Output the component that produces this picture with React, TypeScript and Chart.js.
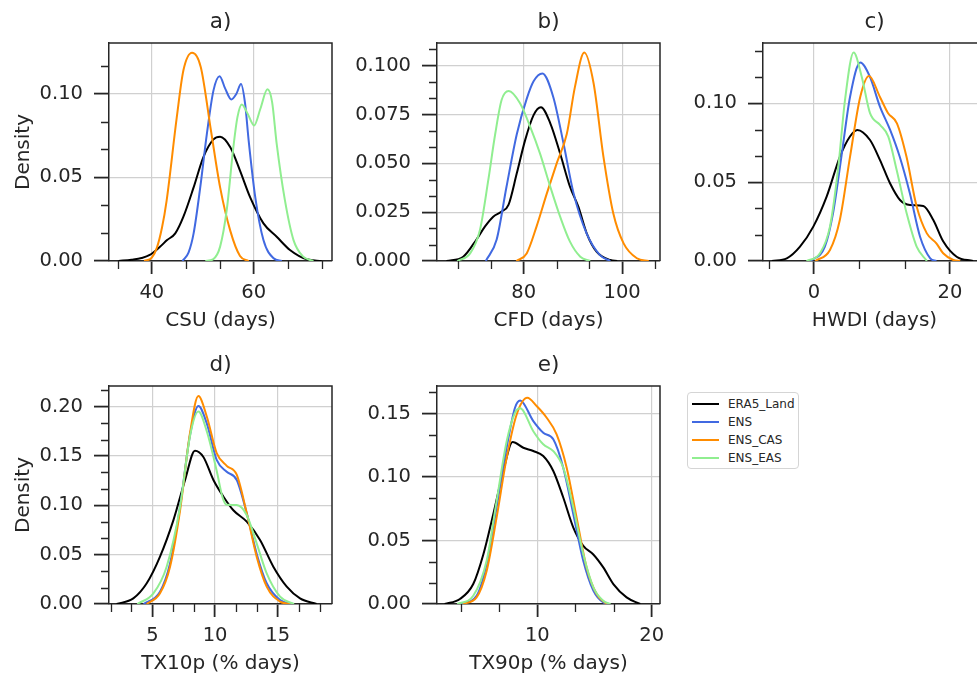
import React, { useEffect, useRef } from "react";
import { Chart, registerables } from "chart.js";

Chart.register(...registerables);

const FONT = "'DejaVu Sans', 'Noto Sans', sans-serif";
const INK = "#262626";
const GRID = "#d0d0d0";

const SERIES_NAMES = ["ERA5_Land", "ENS", "ENS_CAS", "ENS_EAS"];
const SERIES_COLORS = ["#000000", "#4169E1", "#FF8C00", "#90EE90"];

type Pt = [number, number];

// ---------- a) CSU ----------
const csuEra5: Pt[] = [[33.5, 0], [36, 0.0008], [38, 0.0018], [39.6, 0.0036], [41.6, 0.0085], [43, 0.0125], [44.6, 0.0165], [46.2, 0.0265], [48.2, 0.044], [50.1, 0.062], [52.1, 0.0727], [53.4, 0.0743], [55.4, 0.068], [57.3, 0.054], [59.3, 0.038], [61.9, 0.0225], [64.5, 0.0145], [67.1, 0.0066], [70.4, 0.001], [73.3, 0]];
const csuEns: Pt[] = [[46, 0], [47.2, 0.005], [48.2, 0.0165], [49.5, 0.044], [50.8, 0.076], [52.1, 0.102], [53.3, 0.1105], [54.4, 0.103], [55.6, 0.0966], [56.6, 0.1], [57.5, 0.1058], [58.3, 0.094], [59, 0.072], [60.3, 0.038], [61.9, 0.0125], [63.9, 0.0016], [65.5, 0]];
const csuCas: Pt[] = [[38.5, 0], [40, 0.002], [41, 0.008], [42, 0.02], [42.9, 0.036], [44.9, 0.086], [46.2, 0.114], [47.9, 0.1245], [49.6, 0.116], [51.6, 0.078], [53.4, 0.044], [55.4, 0.018], [57.3, 0.003], [59, 0]];
const csuEas: Pt[] = [[50.5, 0], [52, 0.001], [53.4, 0.0086], [54.7, 0.0305], [56, 0.068], [56.8, 0.086], [57.65, 0.0936], [58.8, 0.088], [60.07, 0.081], [61.3, 0.091], [62.68, 0.1026], [63.6, 0.095], [64.5, 0.07], [66.1, 0.0365], [67.8, 0.0125], [69.7, 0.0026], [71.7, 0]];

// ---------- b) CFD ----------
const cfdEra5: Pt[] = [[64.3, 0], [67.7, 0.0022], [70.4, 0.011], [72.1, 0.0176], [73.8, 0.0227], [75.5, 0.0253], [76.9, 0.0287], [78.6, 0.045], [80.3, 0.062], [82, 0.0747], [83.5, 0.0787], [85.4, 0.0705], [87.4, 0.055], [89.4, 0.038], [91.1, 0.0278], [92.8, 0.0142], [94.8, 0.0048], [97.6, 0.0005], [99, 0]];
const cfdEns: Pt[] = [[72.3, 0], [74.5, 0.011], [76.5, 0.038], [78.6, 0.065], [80.6, 0.083], [82, 0.092], [83.8, 0.096], [86, 0.084], [88.1, 0.06], [90.1, 0.035], [92.8, 0.014], [95.5, 0.003], [97.6, 0]];
const cfdCas: Pt[] = [[78.5, 0], [80.6, 0.0039], [82.6, 0.0176], [84.7, 0.0346], [86.7, 0.05], [88.75, 0.065], [90.4, 0.089], [92.3, 0.1067], [94.2, 0.091], [96.2, 0.0534], [98.2, 0.0244], [100.3, 0.009], [103, 0.0014], [105.4, 0]];
const cfdEas: Pt[] = [[66.5, 0], [69.1, 0.0039], [71.1, 0.0159], [72.8, 0.0415], [74.2, 0.065], [75.5, 0.0824], [76.95, 0.087], [79.25, 0.0807], [81.3, 0.0688], [83.3, 0.0551], [85.4, 0.038], [87.4, 0.0227], [89.4, 0.0099], [91.5, 0.0022], [93.5, 0]];

// ---------- c) HWDI ----------
const hwdiEra5: Pt[] = [[-6.2, 0], [-4, 0.0017], [-2.06, 0.0091], [-0.1, 0.0218], [1.86, 0.0408], [3.82, 0.0662], [5.29, 0.0789], [6.37, 0.0831], [8.24, 0.0767], [9.71, 0.064], [11.18, 0.0493], [12.65, 0.0387], [14.12, 0.0355], [16.08, 0.0349], [17.55, 0.026], [19.02, 0.0123], [20.98, 0.0027], [23.4, 0]];
const hwdiEns: Pt[] = [[-0.5, 0], [1.6, 0.0091], [2.8, 0.0302], [4.1, 0.0683], [5.3, 0.104], [6.8, 0.1258], [8.2, 0.117], [9.7, 0.0979], [11.2, 0.0831], [12.6, 0.0662], [14.1, 0.0429], [15.6, 0.0154], [17.1, 0.0017], [18, 0]];
const hwdiCas: Pt[] = [[0.2, 0], [2.35, 0.007], [3.8, 0.026], [5.3, 0.066], [6.8, 0.104], [8.1, 0.1173], [9.7, 0.104], [10.9, 0.0937], [12.2, 0.0873], [13.6, 0.0662], [15.1, 0.0345], [16.6, 0.0175], [18, 0.0112], [19, 0.0049], [20.5, 0.0006], [21.5, 0]];
const hwdiEas: Pt[] = [[-1.1, 0], [0.88, 0.0049], [2.35, 0.0218], [3.58, 0.0598], [4.56, 0.102], [5.83, 0.1321], [7.01, 0.117], [8.24, 0.0937], [9.71, 0.0863], [10.93, 0.0789], [12.16, 0.0577], [13.63, 0.0302], [15.1, 0.0091], [16.6, 0]];

// ---------- d) TX10p ----------
const tx10Era5: Pt[] = [[2.15, 0], [3.48, 0.0057], [4.55, 0.021], [5.61, 0.048], [6.68, 0.085], [7.61, 0.1257], [8.4, 0.1554], [9.07, 0.149], [9.87, 0.1257], [10.66, 0.109], [11.46, 0.095], [12.53, 0.0834], [13.59, 0.0649], [14.65, 0.0378], [15.72, 0.0176], [16.78, 0.0057], [18.1, 0]];
const tx10Ens: Pt[] = [[4.3, 0], [5.61, 0.0125], [6.41, 0.041], [7.21, 0.0986], [8.0, 0.171], [8.67, 0.2007], [9.34, 0.183], [10.13, 0.146], [10.93, 0.134], [11.73, 0.1257], [12.53, 0.092], [13.32, 0.051], [14.12, 0.021], [15.19, 0.004], [16.2, 0]];
const tx10Cas: Pt[] = [[4.55, 0], [5.61, 0.0108], [6.41, 0.0378], [7.21, 0.095], [8.0, 0.173], [8.67, 0.2108], [9.34, 0.19], [10.13, 0.153], [10.93, 0.14], [11.73, 0.131], [12.53, 0.092], [13.32, 0.048], [14.12, 0.0176], [15.19, 0.0024], [16, 0]];
const tx10Eas: Pt[] = [[3.8, 0], [5.08, 0.0108], [6.14, 0.0378], [7.21, 0.0986], [8.0, 0.17], [8.67, 0.195], [9.34, 0.175], [10.13, 0.135], [10.6, 0.108], [10.93, 0.1005], [11.73, 0.1003], [12.53, 0.09], [13.32, 0.0615], [14.12, 0.031], [15.19, 0.0074], [16.3, 0]];

// ---------- e) TX90p ----------
const tx90Era5: Pt[] = [[1.9, 0], [3.24, 0.0039], [4.4, 0.0157], [5.28, 0.039], [6.15, 0.0707], [7.03, 0.1047], [7.84, 0.1275], [8.78, 0.123], [9.65, 0.1204], [10.52, 0.1165], [11.4, 0.1047], [12.27, 0.0838], [13.15, 0.0602], [14.02, 0.0458], [14.9, 0.039], [15.77, 0.0288], [16.65, 0.0157], [17.81, 0.0052], [19, 0]];
const tx90Ens: Pt[] = [[3.3, 0], [4.69, 0.0065], [5.57, 0.0314], [6.44, 0.0759], [7.32, 0.123], [8.05, 0.1545], [8.5, 0.1602], [9.65, 0.144], [10.52, 0.1348], [11.4, 0.1296], [12.27, 0.1073], [13.15, 0.0707], [14.02, 0.034], [14.9, 0.0105], [15.8, 0.001], [16.3, 0]];
const tx90Cas: Pt[] = [[3.5, 0], [4.69, 0.0052], [5.57, 0.026], [6.44, 0.068], [7.32, 0.115], [8.19, 0.149], [9.13, 0.1623], [9.94, 0.1558], [10.82, 0.1466], [11.69, 0.1335], [12.57, 0.1073], [13.44, 0.068], [14.31, 0.0288], [15.19, 0.0079], [16.06, 0]];
const tx90Eas: Pt[] = [[3.0, 0], [4.4, 0.0065], [5.57, 0.034], [6.44, 0.081], [7.32, 0.128], [8.05, 0.1505], [8.5, 0.154], [9.65, 0.136], [10.52, 0.1257], [11.4, 0.1204], [12.27, 0.1073], [13.15, 0.0759], [14.02, 0.0393], [14.9, 0.0131], [15.77, 0.0026], [16.4, 0]];

// ---------- axis ticks ----------
const csuXTicks = [40, 60];
const cfdXTicks = [80, 100];
const hwdiXTicks = [0, 20];
const tx10XTicks = [5, 10, 15];
const tx90XTicks = [10, 20];
const csuYTicks = [0, 0.05, 0.1];
const cfdYTicks = [0, 0.025, 0.05, 0.075, 0.1];
const hwdiYTicks = [0, 0.05, 0.1];
const tx10YTicks = [0, 0.05, 0.1, 0.15, 0.2];
const tx90YTicks = [0, 0.05, 0.1, 0.15];

// minor ticks: each major interval split into three
function minorTicks(major: number[], lo: number, hi: number): number[] {
  const step = (major[1] - major[0]) / 3;
  const out: number[] = [];
  const start = Math.floor((lo - major[0]) / step) - 1;
  const end = Math.ceil((hi - major[0]) / step) + 1;
  for (let k = start; k <= end; k++) {
    if (k % 3 === 0) continue;
    const v = major[0] + k * step;
    if (v >= lo && v <= hi) out.push(v);
  }
  return out;
}

type PanelCfg = {
  title: string;
  xLabel: string;
  yTitle: boolean;
  boxLeft: number;
  boxTop: number;
  xMin: number;
  xMax: number;
  yMax: number;
  xTicks: number[];
  yTicks: number[];
  yDecimals: number;
  series: Pt[][];
};

const PANELS: PanelCfg[] = [
  { title: "a)", xLabel: "CSU (days)", yTitle: true, boxLeft: 109, boxTop: 43, xMin: 31.6, xMax: 75.35, yMax: 0.1303, xTicks: csuXTicks, yTicks: csuYTicks, yDecimals: 2, series: [csuEra5, csuEns, csuCas, csuEas] },
  { title: "b)", xLabel: "CFD (days)", yTitle: false, boxLeft: 437, boxTop: 43, xMin: 62.37, xMax: 107.7, yMax: 0.1116, xTicks: cfdXTicks, yTicks: cfdYTicks, yDecimals: 3, series: [cfdEra5, cfdEns, cfdCas, cfdEas] },
  { title: "c)", xLabel: "HWDI (days)", yTitle: false, boxLeft: 763, boxTop: 43, xMin: -7.5, xMax: 25.3, yMax: 0.1382, xTicks: hwdiXTicks, yTicks: hwdiYTicks, yDecimals: 2, series: [hwdiEra5, hwdiEns, hwdiCas, hwdiEas] },
  { title: "d)", xLabel: "TX10p (% days)", yTitle: true, boxLeft: 109, boxTop: 386, xMin: 1.54, xMax: 19.33, yMax: 0.2209, xTicks: tx10XTicks, yTicks: tx10YTicks, yDecimals: 2, series: [tx10Era5, tx10Ens, tx10Cas, tx10Eas] },
  { title: "e)", xLabel: "TX90p (% days)", yTitle: false, boxLeft: 437, boxTop: 386, xMin: 1.23, xMax: 20.73, yMax: 0.1716, xTicks: tx90XTicks, yTicks: tx90YTicks, yDecimals: 2, series: [tx90Era5, tx90Ens, tx90Cas, tx90Eas] },
];

const BOX_W = 223;
const BOX_H = 218;
const Y_AXIS_W = 100;
const TITLE_H = 43;
const X_AXIS_H = 72;
const RIGHT_PAD = 24;

const framePlugin = {
  id: "frame",
  afterDraw(chart: any, _args: any, opts: any) {
    const { ctx, chartArea } = chart;
    const { left, right, top, bottom } = chartArea;
    const xs = chart.scales.x;
    const ys = chart.scales.y;
    ctx.save();
    ctx.strokeStyle = INK;
    ctx.lineWidth = 1.5;
    ctx.beginPath();
    ctx.moveTo(left, top);
    ctx.lineTo(right, top);
    ctx.lineTo(right, bottom);
    ctx.stroke();
    ctx.lineWidth = 1.3;
    ctx.beginPath();
    for (const v of opts.xMinor || []) {
      const px = Math.round(xs.getPixelForValue(v)) + 0.5;
      ctx.moveTo(px, bottom);
      ctx.lineTo(px, bottom + 8);
    }
    for (const v of opts.yMinor || []) {
      const py = Math.round(ys.getPixelForValue(v)) + 0.5;
      ctx.moveTo(left - 8, py);
      ctx.lineTo(left, py);
    }
    ctx.stroke();
    ctx.restore();
  },
};

function Panel({ cfg }: { cfg: PanelCfg }) {
  const ref = useRef<HTMLCanvasElement>(null);
  const W = Y_AXIS_W + BOX_W + RIGHT_PAD;
  const H = TITLE_H + BOX_H + X_AXIS_H;
  useEffect(() => {
    const xMinor = minorTicks(cfg.xTicks, cfg.xMin, cfg.xMax);
    const yMinor = minorTicks(cfg.yTicks, 0, cfg.yMax);
    const datasets = cfg.series.map((pts, i) => ({
      label: SERIES_NAMES[i],
      data: pts.map(([x, y]) => ({ x, y })),
      borderColor: SERIES_COLORS[i],
      backgroundColor: SERIES_COLORS[i],
      borderWidth: 2,
      pointRadius: 0,
      fill: false,
      cubicInterpolationMode: "monotone" as const,
      order: 4 - i,
    }));
    const chart = new Chart(ref.current!, {
      type: "line",
      data: { datasets },
      plugins: [framePlugin],
      options: {
        animation: false,
        responsive: false,
        maintainAspectRatio: false,
        layout: { padding: { left: 0, right: RIGHT_PAD, top: 0, bottom: 0 } },
        plugins: {
          legend: { display: false },
          tooltip: { enabled: false },
          title: {
            display: true,
            text: cfg.title,
            fullSize: false,
            color: INK,
            font: { family: FONT, size: 21.5, weight: "normal", lineHeight: 1.2 },
            padding: { top: 10, bottom: 7.2 },
          },
          // @ts-ignore
          frame: { xMinor, yMinor },
        },
        scales: {
          x: {
            type: "linear",
            min: cfg.xMin,
            max: cfg.xMax,
            afterBuildTicks: (s: any) => {
              s.ticks = cfg.xTicks.map((v) => ({ value: v }));
            },
            afterFit: (s: any) => {
              s.height = X_AXIS_H;
            },
            grid: { color: GRID, lineWidth: 1.2, tickLength: 13, tickColor: INK, tickWidth: 1.8 },
            border: { color: INK, width: 1.5 },
            ticks: {
              autoSkip: false,
              maxRotation: 0,
              padding: 7.5,
              color: INK,
              font: { family: FONT, size: 19.5 },
              callback: (v: any) => String(v),
            },
            title: {
              display: true,
              text: cfg.xLabel,
              color: INK,
              font: { family: FONT, size: 20, lineHeight: 1.2 },
              padding: { top: 0, bottom: 0 },
            },
          },
          y: {
            type: "linear",
            min: 0,
            max: cfg.yMax,
            afterBuildTicks: (s: any) => {
              s.ticks = cfg.yTicks.map((v) => ({ value: v }));
            },
            afterFit: (s: any) => {
              s.width = Y_AXIS_W;
            },
            grid: { color: GRID, lineWidth: 1.2, tickLength: 15, tickColor: INK, tickWidth: 1.8 },
            border: { color: INK, width: 1.5 },
            ticks: {
              autoSkip: false,
              padding: 11,
              color: INK,
              font: { family: FONT, size: 19.5 },
              callback: (v: any) => Number(v).toFixed(cfg.yDecimals),
            },
            title: {
              display: cfg.yTitle,
              text: "Density",
              color: INK,
              font: { family: FONT, size: 20, lineHeight: 1.2 },
              padding: { top: 3, bottom: 0 },
            },
          },
        },
      } as any,
    });
    return () => chart.destroy();
  }, [cfg]);
  return (
    <canvas
      ref={ref}
      width={W}
      height={H}
      style={{
        position: "absolute",
        left: cfg.boxLeft - Y_AXIS_W,
        top: cfg.boxTop - TITLE_H,
        width: W,
        height: H,
      }}
    />
  );
}

function Legend() {
  return (
    <div
      style={{
        position: "absolute",
        left: 687,
        top: 392,
        width: 112,
        height: 77,
        boxSizing: "border-box",
        border: "1px solid #d5d5d5",
        borderRadius: 4,
        background: "#fff",
        fontFamily: FONT,
        fontSize: 12,
        color: INK,
      }}
    >
      {SERIES_NAMES.map((name, i) => (
        <div key={name} style={{ position: "absolute", left: 0, top: 1.7 + i * 18.2, height: 18, width: "100%" }}>
          <div style={{ position: "absolute", left: 4, top: 8, width: 27, height: 2, background: SERIES_COLORS[i] }} />
          <div style={{ position: "absolute", left: 40, top: 0, lineHeight: "18px", whiteSpace: "nowrap" }}>{name}</div>
        </div>
      ))}
    </div>
  );
}

export default function App() {
  return (
    <div
      style={{
        position: "fixed",
        left: 0,
        top: 0,
        width: 977,
        height: 674,
        overflow: "hidden",
        background: "#fff",
      }}
    >
      {PANELS.map((p) => (
        <Panel key={p.title} cfg={p} />
      ))}
      <Legend />
    </div>
  );
}
